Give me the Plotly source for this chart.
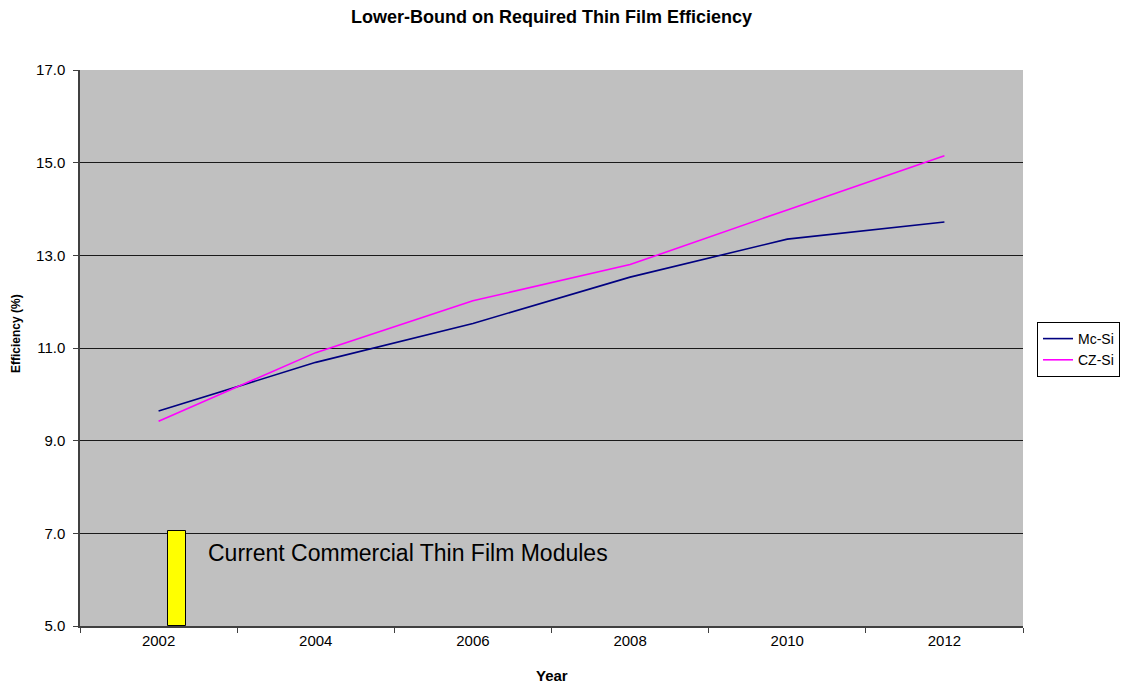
import plotly.graph_objects as go

# Years on the category axis
years = ["2002", "2004", "2006", "2008", "2010", "2012"]

# Lower-bound thin film efficiency (%) needed to compete with each wafer technology
mc_si = [9.64, 10.69, 11.53, 12.53, 13.35, 13.72]
cz_si = [9.42, 10.90, 12.02, 12.80, 13.98, 15.15]

# Efficiency band of today's commercial thin film modules (%)
thin_film_low = 5.0
thin_film_high = 7.05
thin_film_label = "Current Commercial Thin Film Modules"

y_ticks = [5.0, 7.0, 9.0, 11.0, 13.0, 15.0, 17.0]

FONT = "Liberation Sans, Arial, sans-serif"

fig = go.Figure()

fig.add_trace(go.Bar(
    x=[years[0]],
    y=[thin_film_high - thin_film_low],
    base=[thin_film_low],
    offset=0.062,
    width=0.115,
    marker=dict(color="#FFFF00", line=dict(color="#000000", width=1)),
    showlegend=False,
    hoverinfo="skip",
))

fig.add_trace(go.Scatter(
    x=years, y=mc_si, mode="lines", name="Mc-Si",
    line=dict(color="#000080", width=1.6),
))
fig.add_trace(go.Scatter(
    x=years, y=cz_si, mode="lines", name="CZ-Si",
    line=dict(color="#FF00FF", width=1.6),
))

fig.add_annotation(
    x=0.30, y=6.57, xref="x", yref="y",
    text=thin_film_label, showarrow=False,
    xanchor="left", yanchor="middle",
    font=dict(family=FONT, size=23, color="#000000"),
)

# Axis titles placed as annotations for exact positioning
fig.add_annotation(
    x=0, y=(626 - 334) / 556, xref="paper", yref="paper", xshift=-64,
    text="<b>Efficiency (%)</b>", showarrow=False, textangle=-90,
    xanchor="center", yanchor="middle",
    font=dict(family=FONT, size=12, color="#000000"),
)
fig.add_annotation(
    x=0.5, y=0, xref="paper", yref="paper", yshift=-49,
    text="<b>Year</b>", showarrow=False,
    xanchor="center", yanchor="middle",
    font=dict(family=FONT, size=15, color="#000000"),
)

fig.update_layout(
    width=1125, height=685,
    margin=dict(l=80, r=102, t=70, b=59, autoexpand=False),
    paper_bgcolor="#FFFFFF",
    plot_bgcolor="#C0C0C0",
    title=dict(
        text="<b>Lower-Bound on Required Thin Film Efficiency</b>",
        x=0.5, xref="paper", xanchor="center",
        y=1 - 17 / 685, yref="container", yanchor="middle",
        font=dict(family=FONT, size=18, color="#000000"),
    ),
    showlegend=True,
    legend=dict(
        x=(1037 - 80) / 943, y=(626 - 322) / 556,
        xanchor="left", yanchor="top",
        bgcolor="#FFFFFF", bordercolor="#000000", borderwidth=1,
        font=dict(family=FONT, size=14, color="#000000"),
        tracegroupgap=0,
    ),
    bargap=0,
)

fig.update_xaxes(
    type="category",
    categoryorder="array", categoryarray=years,
    range=[-0.5, 5.5],
    showgrid=False,
    showline=True, linecolor="#404040", linewidth=1.5,
    ticks="outside", tickson="boundaries", ticklen=5,
    tickcolor="#404040", tickwidth=1,
    tickfont=dict(family=FONT, size=15, color="#000000"),
    zeroline=False,
)

fig.update_yaxes(
    range=[5, 17],
    tickvals=y_ticks, tickformat=".1f",
    showgrid=True, gridcolor="#1a1a1a", gridwidth=1,
    showline=True, linecolor="#404040", linewidth=1.5,
    ticks="outside", ticklen=5, tickcolor="#404040",
    ticklabelstandoff=5,
    tickfont=dict(family=FONT, size=15, color="#000000"),
    zeroline=False,
)

fig.write_html("out.html")
